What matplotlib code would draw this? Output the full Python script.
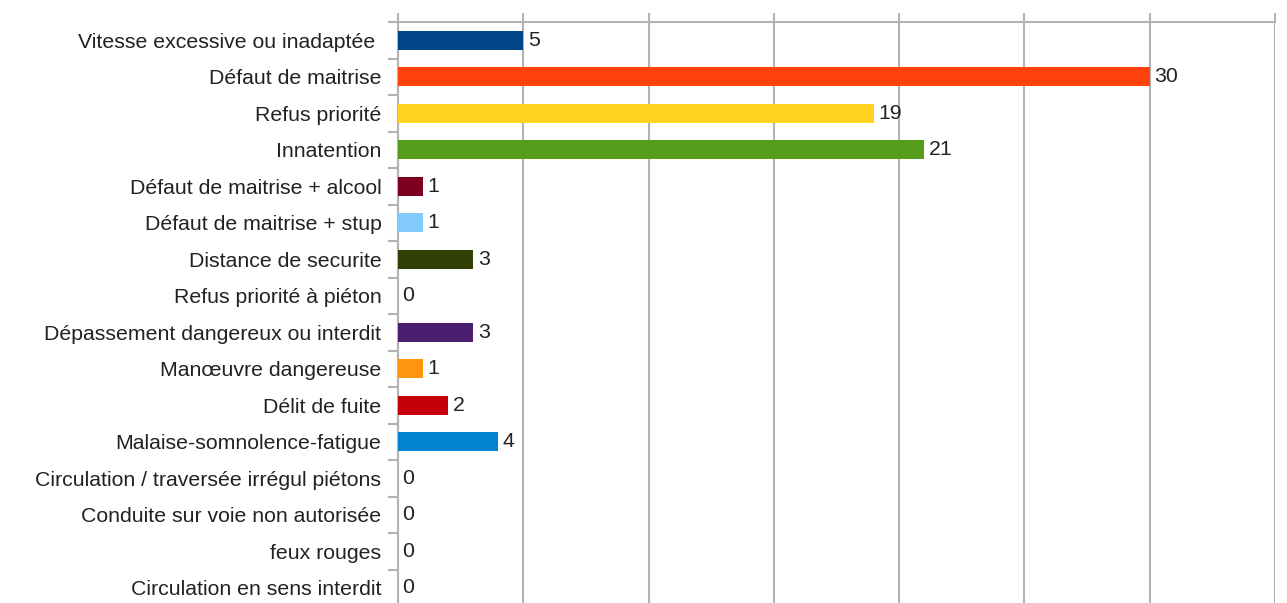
import matplotlib
matplotlib.use("Agg")
import matplotlib.pyplot as plt
import numpy as np

plt.rcParams['font.family'] = ['Liberation Sans', 'DejaVu Sans']

categories = [
    "Vitesse excessive ou inadaptée ",
    "Défaut de maitrise",
    "Refus priorité",
    "Innatention",
    "Défaut de maitrise + alcool",
    "Défaut de maitrise + stup",
    "Distance de securite",
    "Refus priorité à piéton",
    "Dépassement dangereux ou interdit",
    "Manœuvre dangereuse",
    "Délit de fuite",
    "Malaise-somnolence-fatigue",
    "Circulation / traversée irrégul piétons",
    "Conduite sur voie non autorisée",
    "feux rouges",
    "Circulation en sens interdit",
]
values = [5, 30, 19, 21, 1, 1, 3, 0, 3, 1, 2, 4, 0, 0, 0, 0]
colors = ["#004586", "#ff420e", "#ffd320", "#579d1c", "#7e0021", "#83caff",
          "#314004", "#aecf00", "#4b1f6f", "#ff950e", "#c5000b", "#0084d1",
          "#0084d1", "#0084d1", "#0084d1", "#0084d1"]

grid_color = "#b3b3b3"
text_color = "#222222"
fs = 15.3

fig = plt.figure(figsize=(12.87, 6.03), dpi=100)
ax = fig.add_axes([0.3093, -0.005, 0.6814, 0.9685])

y = np.arange(len(categories))
ax.barh(y, values, height=0.52, color=colors, zorder=3)

for yi, v in zip(y, values):
    ax.text(v + 0.18, yi, str(v), va="center", ha="left", fontsize=fs, color=text_color, zorder=4)

ax.set_xlim(0, 35)
ax.set_ylim(len(categories) - 0.5, -0.5)

ax.set_yticks(y)
ax.set_yticklabels(categories, fontsize=fs, color=text_color)
ax.set_yticks(np.arange(len(categories) + 1) - 0.5, minor=True)
ax.tick_params(axis="y", which="major", length=0, pad=12)
ax.tick_params(axis="y", which="minor", length=7, width=1.5, color=grid_color)

ax.set_xticks(np.arange(0, 36, 5))
ax.xaxis.tick_top()
ax.tick_params(axis="x", which="major", length=6.5, width=1.5, color=grid_color, labeltop=False, labelbottom=False)
ax.grid(axis="x", color=grid_color, linewidth=1.5, zorder=0)

for s in ["right", "bottom"]:
    ax.spines[s].set_visible(False)
for s in ["top", "left"]:
    ax.spines[s].set_color(grid_color)
    ax.spines[s].set_linewidth(1.5)

fig.savefig("out.png", dpi=100)
